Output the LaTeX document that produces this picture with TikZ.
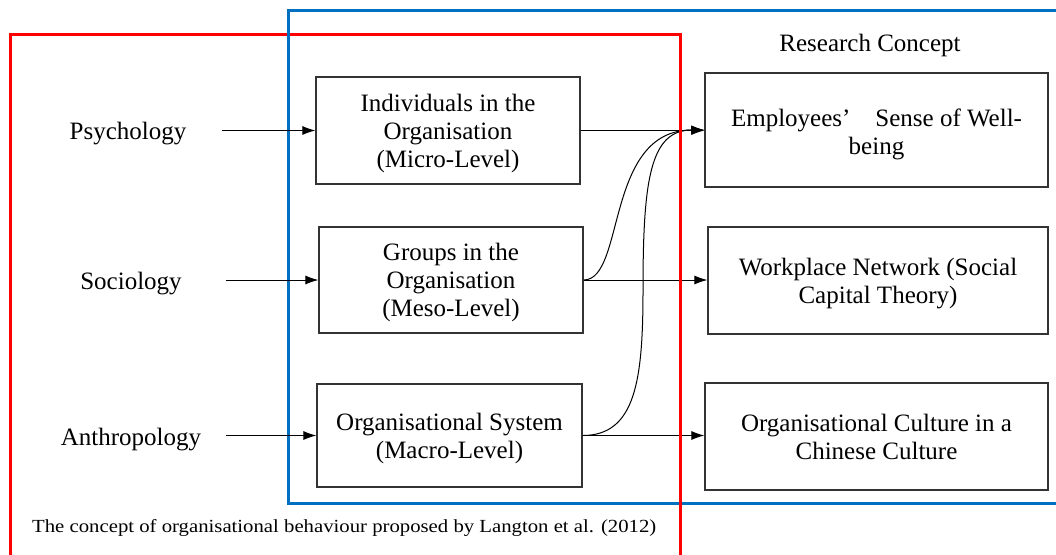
\documentclass[tikz,border=0pt]{standalone}
\usepackage{fontspec}
\usepackage{graphicx}
\setmainfont{Liberation Serif}
\usetikzlibrary{arrows.meta}
\definecolor{frred}{RGB}{255,0,0}
\definecolor{frblue}{RGB}{0,112,192}
\newcommand{\boxtext}[2][6pt]{\raisebox{0pt}[\dimexpr\height+#1\relax]{\begin{tabular}{@{}c@{}}#2\end{tabular}}}
\begin{document}
\begin{tikzpicture}[x=1pt,y=-1pt,
  box/.style={draw=black!80, line width=1.2pt, inner sep=0pt, font=\fontsize{25}{28}\selectfont},
  lbl/.style={font=\fontsize{25}{28}\selectfont, inner sep=0pt, yshift=-3pt},
  arr/.style={-{Latex[length=13pt,width=9pt]}, line width=1pt},
  frame/.style={line width=3pt}]
\useasboundingbox (0,0) rectangle (1056,554);
\fill[white] (0,0) rectangle (1056,554);
% frames
\draw[frame, frred] (10,34) rectangle (680,600);
\draw[frame, frblue] (288,10) rectangle (1064,503);
% boxes
\node[box, minimum width=264pt, minimum height=107pt] (b1) at (448,130.5) {\boxtext{Individuals in the\\Organisation\\(Micro-Level)}};
\node[box, minimum width=264pt, minimum height=106pt] (b2) at (451,280) {\boxtext{Groups in the\\Organisation\\(Meso-Level)}};
\node[box, minimum width=265pt, minimum height=103pt] (b3) at (449.5,435.5) {\boxtext{Organisational System\\(Macro-Level)}};
\node[box, minimum width=343pt, minimum height=114pt] (r1) at (876.5,130) {\boxtext[9pt]{Employees’\hspace{0.75em} Sense of Well-\\being}};
\node[box, minimum width=340pt, minimum height=107pt] (r2) at (878,280.5) {\boxtext{Workplace Network (Social\\Capital Theory)}};
\node[box, minimum width=343pt, minimum height=107pt] (r3) at (876.5,436.5) {\boxtext{Organisational Culture in a\\Chinese Culture}};
% labels
\node[lbl] (rc) at (870,42) {Research Concept};
\node[lbl] (psy) at (128,131) {Psychology};
\node[lbl] (soc) at (131,281) {Sociology};
\node[lbl] (ant) at (131,437) {Anthropology};
\coordinate (p1) at (222,130.5);
\coordinate (p2) at (226,280);
\coordinate (p3) at (226,435.5);
\coordinate (m) at (643,290);
% arrows
\draw[arr] (p1) -- (b1.west);
\draw[arr] (p2) -- (b2.west);
\draw[arr] (p3) -- (b3.west);
\draw[arr] (b1.east) -- (b1.east -| r1.west);
\draw[arr] (b2.east) -- (b2.east -| r2.west);
\draw[arr] (b3.east) -- (b3.east -| r3.west);
\draw[arr] (b2.east) .. controls +(42,0) and +(-100,0) .. (r1.west);
\draw[arr] (b3.east) .. controls +(53,0) and (643,380) .. (m) .. controls (643,180) and (650,130) .. (r1.west);
% red right edge on top
\draw[frame, frred] (680,32.5) -- (680,600);
% caption
\node[anchor=west, inner sep=0pt] (cap) at (32,528) {\resizebox*{624pt}{17pt}{The concept of organisational behaviour proposed by Langton et al. (2012)}};
\end{tikzpicture}
\end{document}
